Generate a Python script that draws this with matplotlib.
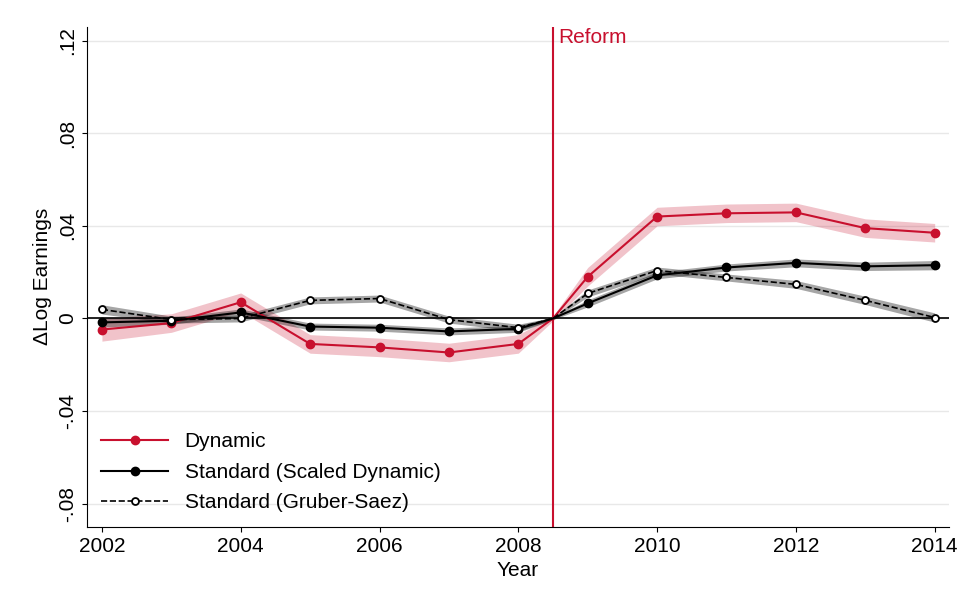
import numpy as np
import matplotlib
matplotlib.use("Agg")
from matplotlib import pyplot as plt
from matplotlib.lines import Line2D

years = [2002, 2003, 2004, 2005, 2006, 2007, 2008, 2008.5, 2009, 2010, 2011, 2012, 2013, 2014]
marked = [y for y in years if y != 2008.5]
dynamic = [-0.0048, -0.002, 0.007, -0.011, -0.0125, -0.0147, -0.011, 0.0, 0.018, 0.044, 0.0454, 0.0458, 0.039, 0.037]
dyn_se = [0.005, 0.004, 0.004, 0.004, 0.004, 0.004, 0.004, 0.001, 0.004, 0.004, 0.004, 0.004, 0.004, 0.004]
scaled = [-0.0017, -0.001, 0.0026, -0.0035, -0.004, -0.0056, -0.0045, 0.0, 0.0065, 0.0186, 0.022, 0.024, 0.0225, 0.023]
sc_se = [0.002, 0.0015, 0.0015, 0.0015, 0.0015, 0.0015, 0.0015, 0.0005, 0.0015, 0.0015, 0.0015, 0.0017, 0.0018, 0.002]
gruber = [0.0039, -0.0005, 0.0, 0.0078, 0.0086, -0.0005, -0.004, 0.0, 0.0108, 0.0207, 0.0177, 0.0147, 0.0078, 0.0004]
gr_se = [0.002, 0.0015, 0.0015, 0.0015, 0.0015, 0.0015, 0.0015, 0.0005, 0.0015, 0.0015, 0.0015, 0.0017, 0.0018, 0.002]

red = "#c8102e"
plt.rcParams['font.family'] = ['Arial', 'Liberation Sans', 'DejaVu Sans']
fig, ax = plt.subplots(figsize=(9.63, 5.92), dpi=100)
fig.subplots_adjust(left=0.09, right=0.985, top=0.955, bottom=0.11)

def sel(v):
    return [v[i] for i, y in enumerate(years) if y != 2008.5]

for v, se, c in [(dynamic, dyn_se, red), (scaled, sc_se, "black"), (gruber, gr_se, "black")]:
    lo = np.array(v) - np.array(se)
    hi = np.array(v) + np.array(se)
    ax.fill_between(years, lo, hi, color=c, alpha=0.25 if c == red else 0.35, lw=0)

ax.axhline(0, color="black", lw=1.2)
ax.axvline(2008.5, color=red, lw=1.5)
ax.text(2008.57, 0.1215, "Reform", color=red, fontsize=15, va="center")

ax.plot(years, dynamic, color=red, lw=1.5)
ax.plot(marked, sel(dynamic), "o", color=red, ms=6)
ax.plot(years, scaled, color="black", lw=1.5)
ax.plot(marked, sel(scaled), "o", color="black", ms=6)
ax.plot(years, gruber, color="black", lw=1.2, ls="--")
ax.plot(marked, sel(gruber), "o", mfc="white", mec="black", ms=5, mew=1.3)

handles = [Line2D([], [], color=red, marker="o", lw=1.5, ms=6),
           Line2D([], [], color="black", marker="o", lw=1.5, ms=6),
           Line2D([], [], color="black", marker="o", mfc="white", ls="--", lw=1.2, ms=5, mew=1.3)]
ax.legend(handles, ["Dynamic", "Standard (Scaled Dynamic)", "Standard (Gruber-Saez)"],
          loc="lower left", frameon=False, fontsize=15, handlelength=3.2,
          labelspacing=0.55, borderaxespad=0.3)

ax.set_xlim(2001.78, 2014.2)
ax.set_ylim(-0.09, 0.126)
ax.set_xticks(range(2002, 2015, 2))
ax.set_yticks([-0.08, -0.04, 0, 0.04, 0.08, 0.12])
ax.set_yticklabels(["-.08", "-.04", "0", ".04", ".08", ".12"], rotation=90, va="center")
ax.tick_params(labelsize=15)
ax.grid(axis="y", color="#e8e8e8", lw=1)
ax.set_axisbelow(True)
for s in ["top", "right"]:
    ax.spines[s].set_visible(False)
ax.set_xlabel("Year", fontsize=15)
ax.set_ylabel("\u0394Log Earnings", fontsize=15)
fig.savefig("out.png")
